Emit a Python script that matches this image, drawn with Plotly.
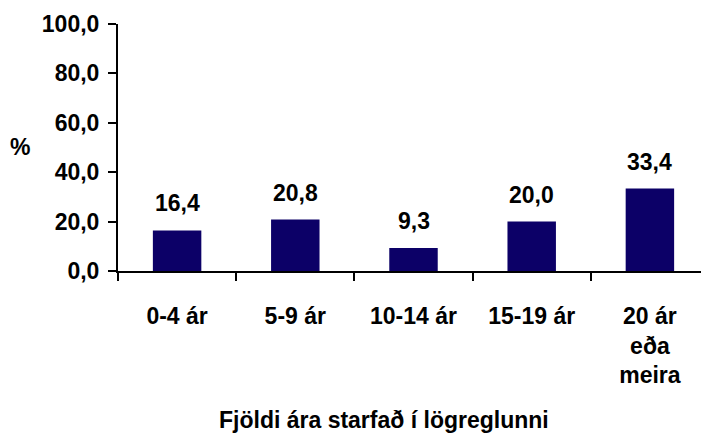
import plotly.graph_objects as go

categories = ["0-4 ár", "5-9 ár", "10-14 ár", "15-19 ár", "20 ár<br>eða<br>meira"]
percent = [16.4, 20.8, 9.3, 20.0, 33.4]
y_ticks = [0, 20, 40, 60, 80, 100]

BAR_COLOR = "#0c0067"
FONT = dict(family="Liberation Sans, Arial, sans-serif", size=23, color="black", weight="bold")

# page body has an 8px margin, so the figure is a bit smaller than the window
PLOT_W, PLOT_H = 591, 247

fig = go.Figure(go.Bar(
    x=categories,
    y=percent,
    marker=dict(color=BAR_COLOR, line=dict(width=0)),
    showlegend=False,
    hoverinfo="skip",
))

# value labels above the bars
for cat, val in zip(categories, percent):
    fig.add_annotation(
        x=cat, y=val, text=f"{val:.1f}".replace(".", ","),
        showarrow=False, yanchor="bottom", yshift=12, font=FONT,
    )

fig.add_annotation(
    x=(20 - 118) / PLOT_W, y=(271 - 147) / PLOT_H, xref="paper", yref="paper",
    text="%", showarrow=False, font=FONT, xanchor="center", yanchor="middle",
)
fig.add_annotation(
    x=(383.5 - 118) / PLOT_W, y=(271 - 420) / PLOT_H, xref="paper", yref="paper",
    text="Fjöldi ára starfað í lögreglunni", showarrow=False, font=FONT,
    xanchor="center", yanchor="middle",
)

fig.update_layout(
    width=701, height=428,
    margin=dict(l=110, r=0, t=16, b=165),
    paper_bgcolor="white", plot_bgcolor="white",
    bargap=0.59,
    separators=",.",
    font=FONT,
)
fig.update_xaxes(
    type="category", showline=True, linecolor="black", linewidth=2,
    ticks="outside", tickson="boundaries", ticklen=8, tickwidth=2, tickcolor="black",
    ticklabelstandoff=23, showgrid=False, tickfont=FONT,
)
fig.update_yaxes(
    range=[0, 100], tickvals=y_ticks, tickformat=".1f",
    showline=True, linecolor="black", linewidth=2,
    ticks="outside", ticklen=8, tickwidth=2, tickcolor="black",
    ticklabelstandoff=4, showgrid=False, zeroline=False, tickfont=FONT,
)

fig.write_html("out.html")
